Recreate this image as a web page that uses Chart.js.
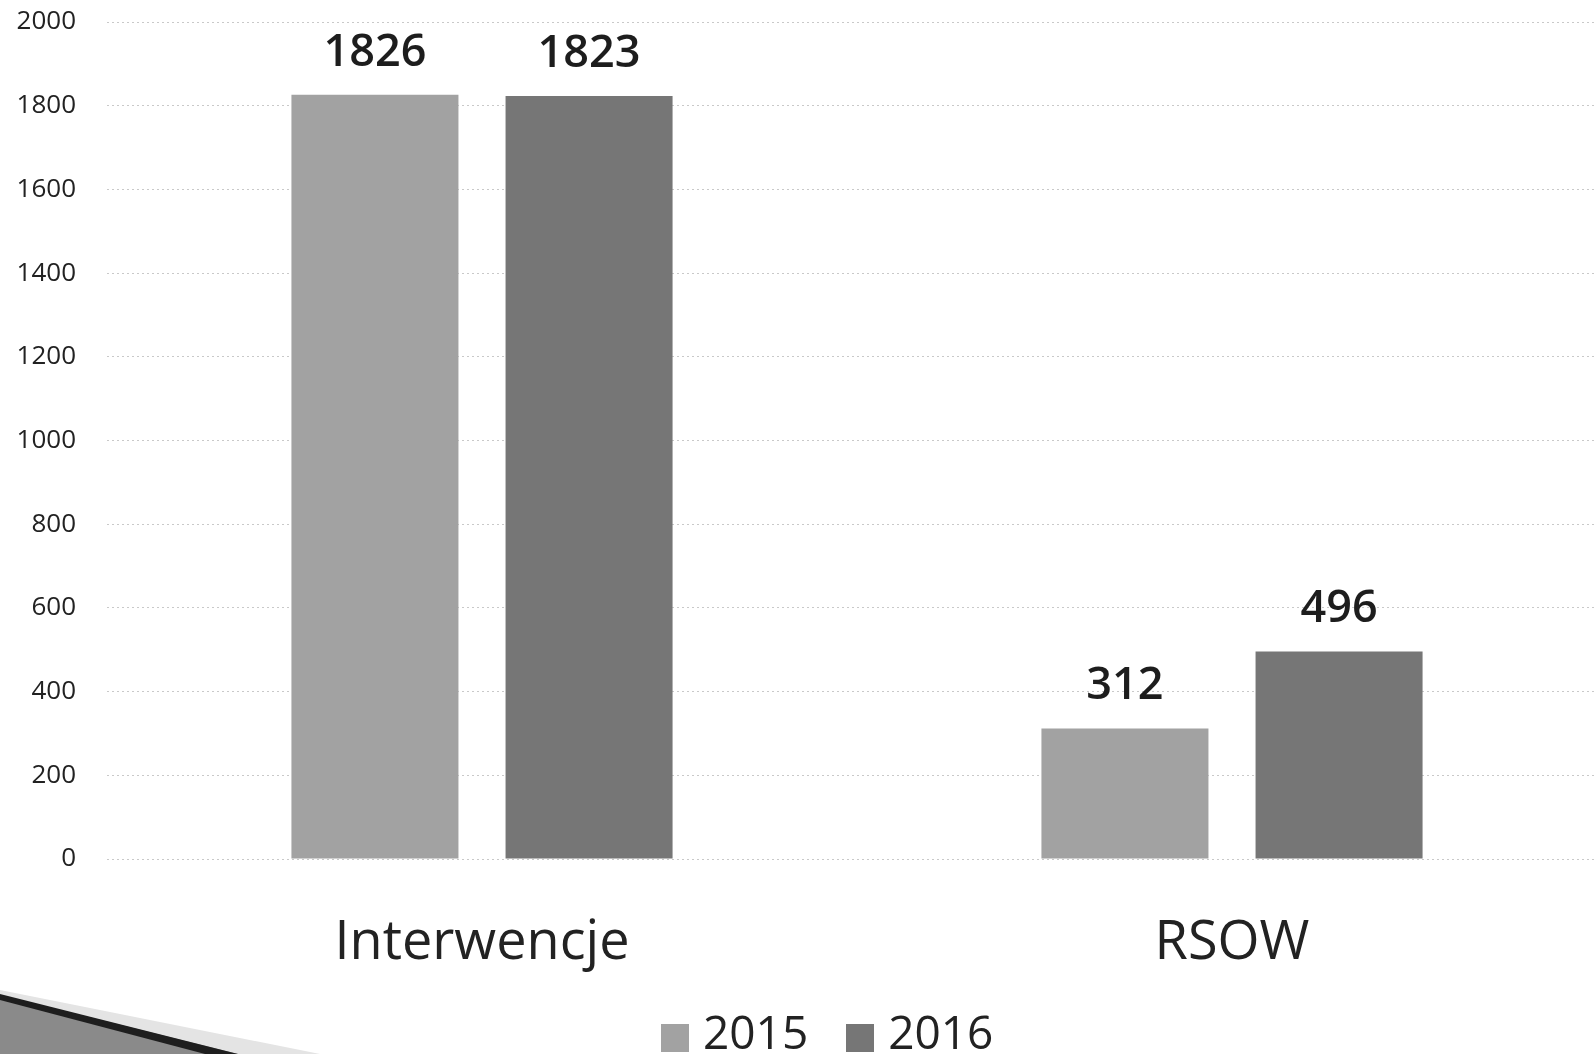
<!DOCTYPE html>
<html>
<head>
<meta charset="utf-8">
<script src="https://cdn.jsdelivr.net/npm/chart.js@4"></script>
<style>
    html, body { margin: 0; padding: 0; background: #fff; overflow: hidden; }
    #wrap { position: relative; width: 1607px; height: 1054px; }
    #corner { position: absolute; left: 0; top: 0; }
    #chart { position: absolute; left: 0; top: 0; }
    #legend { position: absolute; left: 661px; top: 1008px; display: flex; align-items: flex-end;
              font-family: 'Open Sans', 'DejaVu Sans', sans-serif; font-size: 46px; color: #222; line-height: 1; }
    #legend .item { display: flex; align-items: flex-end; margin-right: 38px; }
    #legend .box { width: 28px; height: 28px; margin-right: 14px; margin-bottom: 2px; }
</style>
</head>
<body>
<div id="wrap">
    <svg id="corner" width="400" height="1054">
        <polygon points="0,990 320,1054 0,1054" fill="#e4e4e4"/>
        <polygon points="0,995 238,1054 0,1054" fill="#8a8a8a"/>
        <polygon points="0,994 238,1054 205,1054 0,1000" fill="#1e1e1e"/>
    </svg>
    <canvas id="chart"></canvas>
    <div id="legend"></div>
</div>
<script>
// values
const categories = ['Interwencje', 'RSOW'];
const seriesLabels = ['2015', '2016'];
const values2015 = [1826, 312];
const values2016 = [1823, 496];
const yTicks = [0, 200, 400, 600, 800, 1000, 1200, 1400, 1600, 1800, 2000];

const FONT = "'Open Sans', 'DejaVu Sans', sans-serif";

// value labels above each bar
const barValueLabels = {
    id: 'barValueLabels',
    afterDatasetsDraw(chart) {
        const ctx = chart.ctx;
        ctx.save();
        ctx.font = `600 45px ${FONT}`;
        ctx.fillStyle = '#1d1d1d';
        ctx.textAlign = 'center';
        ctx.textBaseline = 'middle';
        chart.data.datasets.forEach((ds, i) => {
            chart.getDatasetMeta(i).data.forEach((bar, j) => {
                ctx.fillText(String(ds.data[j]), bar.x, bar.y - 42);
            });
        });
        ctx.restore();
    }
};

const canvas = document.getElementById('chart');
canvas.width = 1607;
canvas.height = 1054;

const chart = new Chart(canvas, {
    type: 'bar',
    data: {
        labels: categories,
        datasets: [
            { label: seriesLabels[0], data: values2015, backgroundColor: '#a2a2a2' },
            { label: seriesLabels[1], data: values2016, backgroundColor: '#767676' }
        ]
    },
    options: {
        responsive: false,
        animation: false,
        layout: { padding: { top: 22, right: 0, bottom: 0, left: 0 } },
        categoryPercentage: 0.571,
        barPercentage: 0.78,
        scales: {
            x: {
                grid: { display: false, drawTicks: false },
                border: { display: false },
                ticks: {
                    padding: 52,
                    color: '#222',
                    font: { family: FONT, size: 54, weight: 500 }
                },
                afterFit(scale) { scale.height = 195; }
            },
            y: {
                min: 0,
                max: 2000,
                afterBuildTicks(scale) { scale.ticks = yTicks.map(v => ({ value: v })); },
                grid: { color: '#c9c9c9', lineWidth: 1, drawTicks: false },
                border: { display: false, dash: [2, 3] },
                ticks: {
                    padding: 31,
                    color: '#222',
                    font: { family: FONT, size: 26 },
                    callback: v => String(v)
                },
                afterFit(scale) {
                    scale.width = 107;
                    scale.paddingTop = 0;
                    scale.paddingBottom = 0;
                }
            }
        },
        plugins: {
            legend: { display: false },
            tooltip: { enabled: false }
        }
    },
    plugins: [barValueLabels]
});

// legend built from the datasets
document.getElementById('legend').innerHTML = chart.data.datasets.map(ds =>
    `<div class="item"><div class="box" style="background:${ds.backgroundColor}"></div><span>${ds.label}</span></div>`
).join('');
</script>
</body>
</html>
